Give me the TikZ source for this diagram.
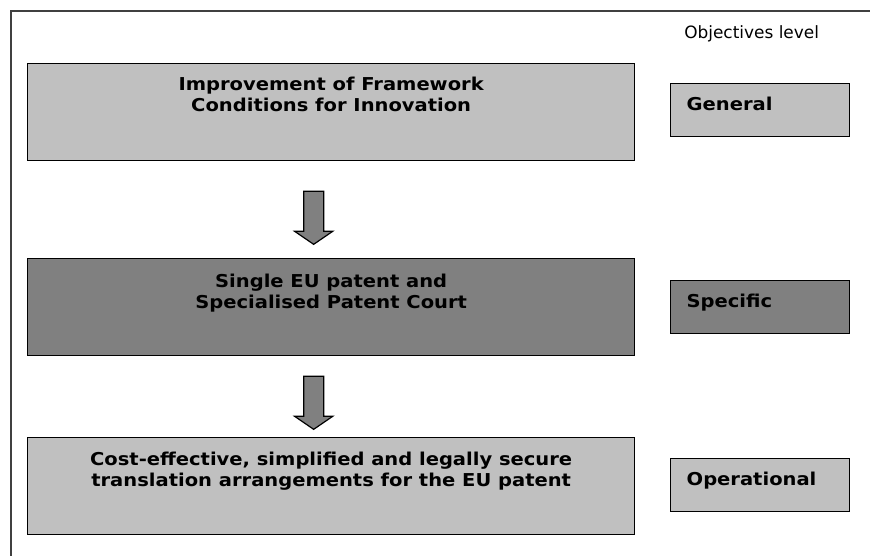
\documentclass[tikz,border=0pt]{standalone}
\usepackage{fontspec}
\setmainfont{DejaVu Sans}
\newfontfamily\goalfont{DejaVu Sans}[FakeStretch=1.1]
\usetikzlibrary{calc,positioning}
\definecolor{lightgrey}{HTML}{C0C0C0}
\definecolor{darkgrey}{HTML}{808080}
\definecolor{framegrey}{HTML}{404040}
\def\downblock(#1){\draw[blockarrow] ($(#1)+(-10,0)$) -- ++(20,0) -- ++(0,40) -- ++(9,0) -- ++(-19,13) -- ++(-19,-13) -- ++(9,0) -- cycle;}
\tikzset{
	goalbox/.style={draw=black, line width=1pt, minimum width=455.25pt, minimum height=72.75pt, anchor=north west, inner sep=0pt},
	goaltext/.style={font=\goalfont\bfseries\fontsize{13.3}{15.75}\selectfont, align=center, anchor=north, inner sep=0pt},
	levelbox/.style={draw=black, line width=1pt, minimum height=39.75pt, anchor=north west, text width=110.25pt, inner xsep=12pt, inner ysep=0pt, align=left, text height=10pt, text depth=9pt, font=\goalfont\bfseries\fontsize{13.3}{15.75}\selectfont},
	blockarrow/.style={draw=black, line width=0.9pt, fill=darkgrey, line join=miter}
}

\begin{document}
\begin{tikzpicture}[x=0.75pt, y=-0.75pt]
		%%%%% START %%%%%
		\useasboundingbox (0, 0) rectangle (870, 556);
		
		\draw[framegrey, line width=1.1pt] (11, 556) -- (11, 11) -- (870, 11);
		
		\node[anchor=base west, inner sep=0pt, font=\fontsize{12.7}{15}\selectfont] (leveltitle) at (684, 39) {Objectives level};
		
		% objectives
		\node[goalbox, fill=lightgrey] (general) at (27, 63) {};
		\node[goaltext] (general-text) at ($(general.north)+(0, 13.5)$) {Improvement of Framework\\Conditions for Innovation};
		
		\node[goalbox, fill=darkgrey] (specific) at (27, 258) {};
		\node[goaltext] (specific-text) at ($(specific.north)+(0, 15.5)$) {Single EU patent and\\Specialised Patent Court};
		
		\node[goalbox, fill=lightgrey] (operational) at (27, 437) {};
		\node[goaltext] (operational-text) at ($(operational.north)+(0, 14.5)$) {Cost-effective, simplified and legally secure\\translation arrangements for the EU patent};
		
		% levels
		\node[levelbox, fill=lightgrey] (general-level) at (670, 83) {General};
		\node[levelbox, fill=darkgrey] (specific-level) at (670, 280) {Specific};
		\node[levelbox, fill=lightgrey] (operational-level) at (670, 458) {Operational};
		
		% arrows
		\coordinate (arrowA) at ($(general.south)+(-17.5, 30)$);
		\coordinate (arrowB) at ($(specific.south)+(-17.5, 20)$);
		\downblock(arrowA)
		\downblock(arrowB)
		
		%%%%% END %%%%%
\end{tikzpicture}
\end{document}
